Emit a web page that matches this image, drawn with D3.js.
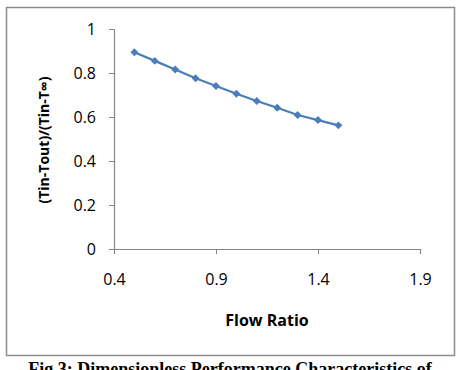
<!DOCTYPE html>
<html lang="en">
<head>
  <meta charset="UTF-8">
  <title>Flow Ratio</title>
  <script src="https://d3js.org/d3.v7.min.js"></script>
  <style>
    body { margin: 0; background: #fff; }
    .tick text { font-family: "Open Sans", sans-serif; font-size: 16px; fill: #000; }
    .axis-title { font-family: "Open Sans", sans-serif; font-weight: bold; }
    .caption { font-family: "Liberation Serif", serif; font-size: 18px; font-weight: bold; }
  </style>
</head>
<body>
  <div id="chart"></div>
  <script>
    // values
    const flowRatio = [0.5, 0.6, 0.7, 0.8, 0.9, 1.0, 1.1, 1.2, 1.3, 1.4, 1.5];
    const tempRatio = [0.894, 0.855, 0.816, 0.776, 0.741, 0.706, 0.673, 0.642, 0.609, 0.586, 0.562];
    const xTicks = [0.4, 0.9, 1.4, 1.9];
    const yTicks = [0, 0.2, 0.4, 0.6, 0.8, 1];

    const W = 459, H = 370;
    const margin = { top: 29, right: 39, bottom: 121, left: 114 };
    const width = W - margin.left - margin.right;
    const height = H - margin.top - margin.bottom;

    const svg = d3.select("#chart")
      .append("svg")
      .attr("width", W)
      .attr("height", H);

    // outer frame
    svg.append("rect")
      .attr("x", 6.5)
      .attr("y", 7.5)
      .attr("width", 448)
      .attr("height", 348)
      .attr("fill", "none")
      .attr("stroke", "#8c8c8c")
      .attr("stroke-width", 1.5);

    const g = svg.append("g")
      .attr("transform", `translate(${margin.left},${margin.top})`);

    const x = d3.scaleLinear().domain([0.4, 1.9]).range([0, width]);
    const y = d3.scaleLinear().domain([0, 1]).range([height, 0]);

    const xAxis = g.append("g")
      .attr("transform", `translate(0,${height})`)
      .call(d3.axisBottom(x).tickValues(xTicks).tickFormat(d3.format(".1f")).tickSize(5).tickPadding(20));

    const yAxis = g.append("g")
      .call(d3.axisLeft(y).tickValues(yTicks).tickFormat(d => d === 0 || d === 1 ? d : d3.format(".1f")(d)).tickSize(5).tickPadding(13));

    [xAxis, yAxis].forEach(a => {
      a.selectAll("path, line").attr("stroke", "#868686");
      a.select(".domain").attr("stroke-width", 1.2);
    });

    // axis titles
    g.append("text")
      .attr("class", "axis-title")
      .attr("text-anchor", "middle")
      .attr("font-size", "16px")
      .attr("x", 267 - margin.left)
      .attr("y", 326 - margin.top)
      .text("Flow Ratio");

    g.append("text")
      .attr("class", "axis-title")
      .attr("text-anchor", "middle")
      .attr("font-size", "14px")
      .attr("transform", "rotate(-90)")
      .attr("x", -(140 - margin.top))
      .attr("y", 49 - margin.left)
      .text("(Tin-Tout)/(Tin-T∞)");

    const pts = flowRatio.map((f, i) => [f, tempRatio[i]]);

    g.append("path")
      .datum(pts)
      .attr("fill", "none")
      .attr("stroke", "#4a7ebb")
      .attr("stroke-width", 2.25)
      .attr("d", d3.line().x(d => x(d[0])).y(d => y(d[1])));

    g.selectAll(".marker")
      .data(pts)
      .enter()
      .append("path")
      .attr("class", "marker")
      .attr("transform", d => `translate(${x(d[0])},${y(d[1])})`)
      .attr("d", d3.symbol().type(d3.symbolDiamond2).size(40))
      .attr("fill", "#4a7ebb");

    // caption under the frame, cut off by the window
    svg.append("text")
      .attr("class", "caption")
      .attr("text-anchor", "middle")
      .attr("x", 230)
      .attr("y", 375)
      .text("Fig 3: Dimensionless Performance Characteristics of");
  </script>
</body>
</html>
